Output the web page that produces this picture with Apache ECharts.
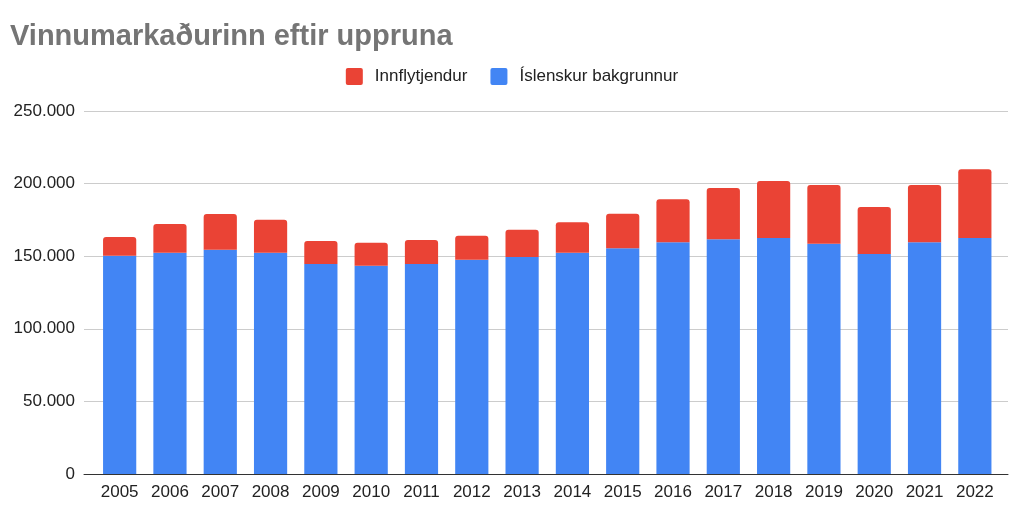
<!DOCTYPE html>
<html><head><meta charset="utf-8">
<script src="https://cdn.jsdelivr.net/npm/echarts@6/dist/echarts.min.js"></script>
<style>html,body{margin:0;padding:0;background:#fff}#c{width:1024px;height:514px}</style>
</head><body><div id="c"></div>
<script>
const years = ['2005','2006','2007','2008','2009','2010','2011','2012','2013','2014','2015','2016','2017','2018','2019','2020','2021','2022'];
const islenskur = [150300,152400,154500,152400,144600,143500,144600,147600,149400,152400,155400,159600,161600,162500,158600,151500,159600,162500];
const innflytjendur = [12900,19800,24600,22700,15900,15800,16600,16500,18900,20900,23900,29600,35400,39300,40400,32400,39400,47400];
const yTicks = [0,50000,100000,150000,200000,250000];

const fmt = v => String(v).replace(/\B(?=(\d{3})+(?!\d))/g, '.');
const FF = 'Liberation Sans, Arial, sans-serif';
const chart = echarts.init(document.getElementById('c'));
chart.setOption({
  animation:false,
  textStyle:{fontFamily:FF},
  title:{text:'Vinnumarkaðurinn eftir uppruna',left:5,top:17,textStyle:{fontFamily:FF,fontSize:29,fontWeight:'bold',color:'#757575'}},
  legend:{data:['Innflytjendur','Íslenskur bakgrunnur'],top:63,left:'center',itemWidth:17,itemHeight:17,itemGap:23,
    icon:'path://M2,0H15Q17,0 17,2V15Q17,17 15,17H2Q0,17 0,15V2Q0,0 2,0Z',
    textStyle:{fontFamily:FF,fontSize:17,color:'#222',padding:[0,0,0,7]}},
  grid:[
    {left:84,right:16,top:111,bottom:40},
    {left:94.5,right:24,top:111,bottom:40}
  ],
  xAxis:[
    {gridIndex:0,type:'category',data:years,axisTick:{show:false},axisLabel:{show:false},axisLine:{lineStyle:{color:'#333'}}},
    {gridIndex:1,type:'category',data:years,axisTick:{show:false},axisLine:{show:false},
      axisLabel:{fontFamily:FF,fontSize:17,color:'#222',margin:10}}
  ],
  yAxis:[
    {gridIndex:0,type:'value',min:yTicks[0],max:yTicks[yTicks.length-1],interval:50000,
      axisLabel:{formatter:v=>fmt(v),fontFamily:FF,fontSize:17,color:'#222',margin:9},
      splitLine:{lineStyle:{color:'#ccc'}}},
    {gridIndex:1,type:'value',min:yTicks[0],max:yTicks[yTicks.length-1],interval:50000,show:false,splitLine:{show:false}}
  ],
  series:[
    {name:'Íslenskur bakgrunnur',type:'bar',stack:'a',xAxisIndex:1,yAxisIndex:1,data:islenskur,barWidth:'66%',itemStyle:{color:'#4285F4'}},
    {name:'Innflytjendur',type:'bar',stack:'a',xAxisIndex:1,yAxisIndex:1,data:innflytjendur,barWidth:'66%',itemStyle:{color:'#EA4335',borderRadius:[3,3,0,0]}}
  ]
});
</script></body></html>
